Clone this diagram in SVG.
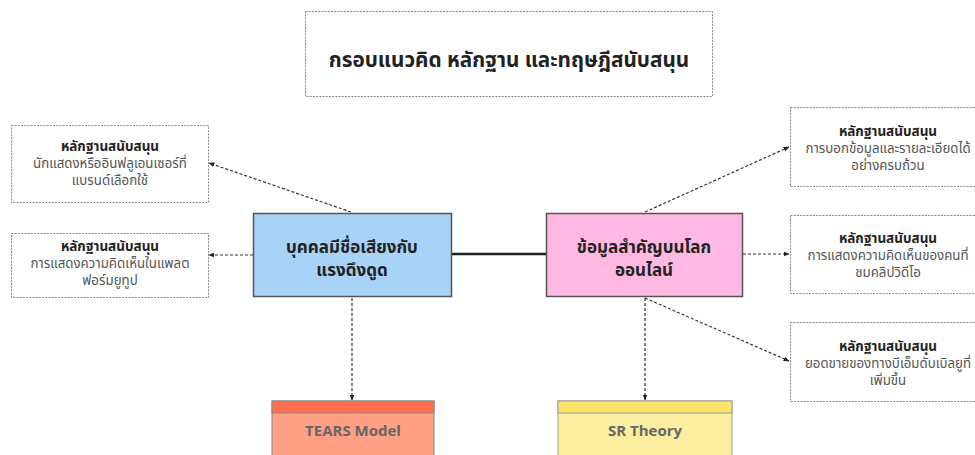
<svg xmlns="http://www.w3.org/2000/svg" width="975" height="455" viewBox="0 0 975 455">
<style>
text{font-family:"Noto Sans Thai","Noto Sans","Liberation Sans",sans-serif;text-anchor:middle}
.ev{fill:#fff;stroke:#8a8a8a;stroke-width:1;stroke-dasharray:2 1.2}
.eh{font-size:13.5px;font-weight:700;fill:#222}
.eb{font-size:13.3px;fill:#555}
.main{font-size:17px;font-weight:700;fill:#222}
.c{fill:none;stroke:#333;stroke-width:1.2;stroke-dasharray:3 2}
.th{font-size:15px;font-weight:700;fill:#666}
</style>
<defs>
<marker id="ah" viewBox="0 0 10 10" refX="9" refY="5" markerWidth="5" markerHeight="5" orient="auto">
<path d="M0,1 L10,5 L0,9 z" fill="#222"/>
</marker>
</defs>
<rect width="975" height="455" fill="#fff"/>
<g id="title">
<rect class="ev" x="305.5" y="11.5" width="407" height="85"/>
<text x="509" y="67" style="font-size:20.7px;font-weight:700;fill:#222">กรอบแนวคิด หลักฐาน และทฤษฎีสนับสนุน</text>
</g>
<g id="ev-left-1">
<rect class="ev" x="11.5" y="125.5" width="197" height="77"/>
<text class="eh" x="110" y="151">หลักฐานสนับสนุน</text>
<text class="eb" x="110" y="168">นักแสดงหรืออินฟลูเอนเซอร์ที่</text>
<text class="eb" x="110" y="185">แบรนด์เลือกใช้</text>
</g>
<g id="ev-left-2">
<rect class="ev" x="11.5" y="233.5" width="197" height="64"/>
<text class="eh" x="110" y="251">หลักฐานสนับสนุน</text>
<text class="eb" x="110" y="268">การแสดงความคิดเห็นในแพลต</text>
<text class="eb" x="110" y="285">ฟอร์มยูทูป</text>
</g>
<g id="ev-right-1">
<rect class="ev" x="790.5" y="107.5" width="200" height="79"/>
<text class="eh" x="888" y="136">หลักฐานสนับสนุน</text>
<text class="eb" x="888" y="153">การบอกข้อมูลและรายละเอียดได้</text>
<text class="eb" x="888" y="170">อย่างครบถ้วน</text>
</g>
<g id="ev-right-2">
<rect class="ev" x="790.5" y="215.5" width="200" height="78"/>
<text class="eh" x="888" y="243">หลักฐานสนับสนุน</text>
<text class="eb" x="888" y="260">การแสดงความคิดเห็นของคนที่</text>
<text class="eb" x="888" y="277">ชมคลิปวิดีโอ</text>
</g>
<g id="ev-right-3">
<rect class="ev" x="790.5" y="322.5" width="200" height="79"/>
<text class="eh" x="888" y="351">หลักฐานสนับสนุน</text>
<text class="eb" x="888" y="368">ยอดขายของทางบีเอ็มดับเบิลยูที่</text>
<text class="eb" x="888" y="385">เพิ่มขึ้น</text>
</g>
<g id="celebrity">
<rect x="253.5" y="213.5" width="198" height="83" fill="#A9D2F7" stroke="#555" stroke-width="1.5"/>
<text class="main" x="352" y="253">บุคคลมีชื่อเสียงกับ</text>
<text class="main" x="352" y="276">แรงดึงดูด</text>
</g>
<g id="online-info">
<rect x="546.5" y="213.5" width="196" height="83" fill="#FFB8E1" stroke="#555" stroke-width="1.5"/>
<text class="main" x="644" y="253">ข้อมูลสำคัญบนโลก</text>
<text class="main" x="644" y="276">ออนไลน์</text>
</g>
<g id="tears">
<rect x="272" y="401" width="162" height="60" fill="#FF9F84" stroke="#888" stroke-width="1"/>
<rect x="272" y="401" width="162" height="12" fill="#FF6E4E" stroke="#888" stroke-width="1"/>
<text class="th" x="353" y="436">TEARS Model</text>
</g>
<g id="sr">
<rect x="558" y="401" width="174" height="60" fill="#FCEEA0" stroke="#999" stroke-width="1"/>
<rect x="558" y="401" width="174" height="12" fill="#FDE46B" stroke="#999" stroke-width="1"/>
<text class="th" x="645" y="436">SR Theory</text>
</g>
<g id="connectors">
<line x1="452" y1="254" x2="546" y2="254" stroke="#222" stroke-width="2.5"/>
<line class="c" x1="351" y1="212" x2="209" y2="163" marker-end="url(#ah)"/>
<line class="c" x1="253" y1="255" x2="209" y2="255" marker-end="url(#ah)"/>
<line class="c" x1="352" y1="298" x2="352" y2="400" marker-end="url(#ah)"/>
<line class="c" x1="645" y1="212" x2="789" y2="147" marker-end="url(#ah)"/>
<line class="c" x1="743" y1="254" x2="789" y2="254" marker-end="url(#ah)"/>
<line class="c" x1="645" y1="298" x2="789" y2="361" marker-end="url(#ah)"/>
<line class="c" x1="645" y1="298" x2="645" y2="400" marker-end="url(#ah)"/>
</g>
</svg>
